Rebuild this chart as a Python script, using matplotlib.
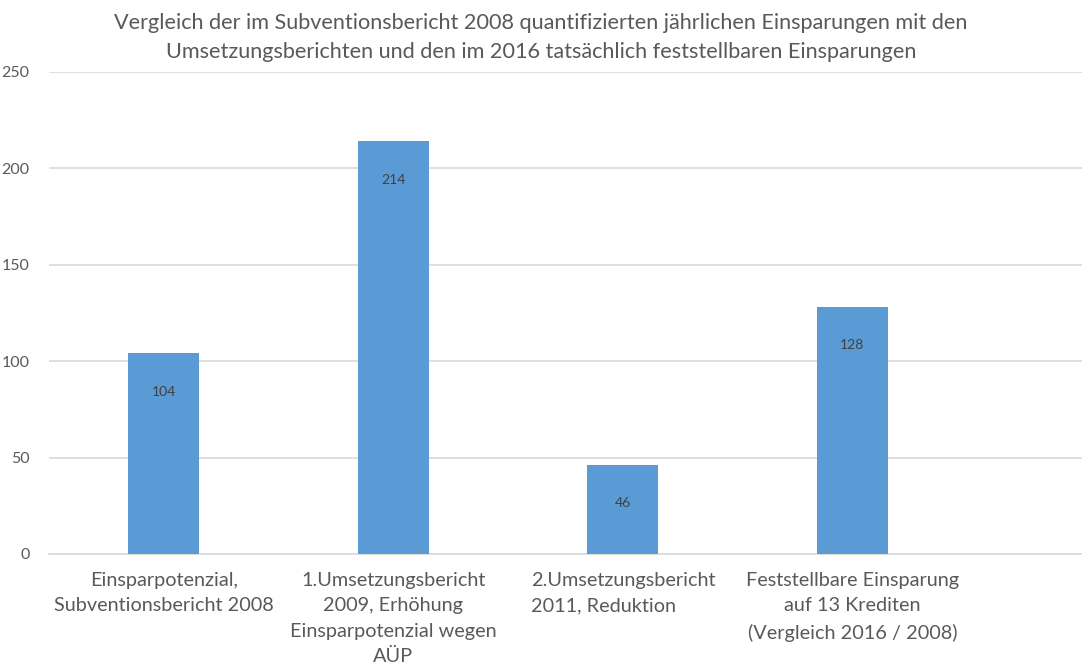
import matplotlib.pyplot as plt

plt.rcParams["font.family"] = ["Lato", "DejaVu Sans"]

kategorien = [
    "Einsparpotenzial,\nSubventionsbericht 2008",
    "1.Umsetzungsbericht\n2009, Erhöhung\nEinsparpotenzial wegen\nAÜP",
    "2.Umsetzungsbericht\n2011, Reduktion",
    "Feststellbare Einsparung\nauf 13 Krediten\n(Vergleich 2016 / 2008)",
]
werte = [104, 214, 46, 128]
yticks = [0, 50, 100, 150, 200, 250]

titel = ("Vergleich der im Subventionsbericht 2008 quantifizierten jährlichen Einsparungen mit den\n"
         "Umsetzungsberichten und den im 2016 tatsächlich feststellbaren Einsparungen")

fig = plt.figure(figsize=(10.82, 6.68), dpi=100)
ax = fig.add_axes([0.0453, 0.1707, 0.9547, 0.7216])

x = list(range(len(werte)))
bars = ax.bar(x, werte, width=0.31, color="#5B9BD5", zorder=3)

for xi, v in zip(x, werte):
    ax.annotate(str(v), (xi, v), xytext=(0, -27.5), textcoords="offset points",
                ha="center", va="center", fontsize=10, color="#404040", zorder=4)

ax.set_xlim(-0.5, 4.0)
ax.set_ylim(0, 250)
ax.set_yticks(yticks)
ax.set_yticklabels([str(t) for t in yticks])
ax.grid(axis="y", color="#D9D9D9", linewidth=1.2, zorder=0)
ax.tick_params(axis="y", length=0, pad=14, labelsize=11.5, labelcolor="#595959")
ax.tick_params(axis="x", length=0, pad=13)
ax.set_xticks(x)
ax.set_xticklabels(kategorien, fontsize=14.3, color="#595959", linespacing=1.6)
# dritte Beschriftung linksbündig wie im Original
ax.get_xticklabels()[2].set_multialignment("left")
ax.get_xticklabels()[2].set_x(2.05)
for s in ["top", "right", "left"]:
    ax.spines[s].set_visible(False)
ax.spines["bottom"].set_color("#D9D9D9")
ax.spines["bottom"].set_linewidth(1.2)

fig.text(0.5, 0.98, titel, ha="center", va="top", fontsize=15.6,
         color="#595959", linespacing=1.55)

fig.savefig("out.png", dpi=100)
